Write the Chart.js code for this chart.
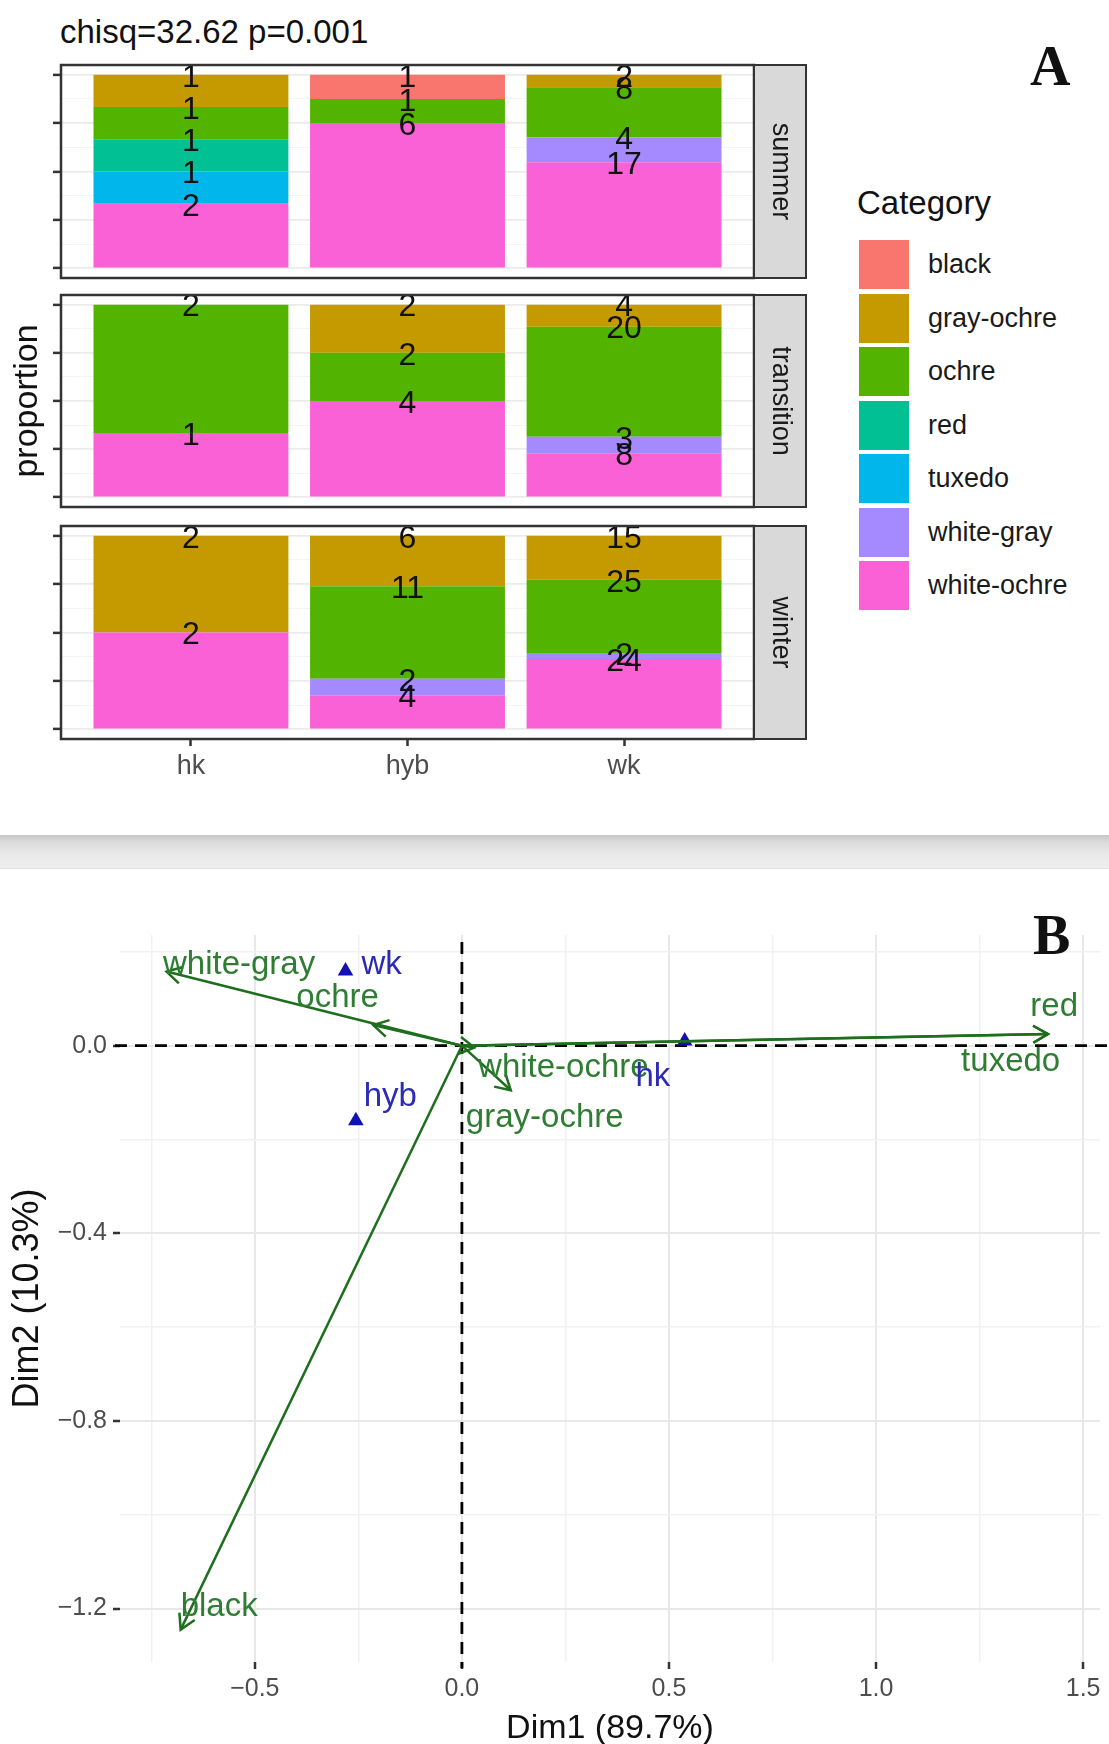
<!DOCTYPE html>
<html>
<head>
<meta charset="utf-8">
<script src="https://cdn.jsdelivr.net/npm/chart.js@4.4.0/dist/chart.umd.min.js"></script>
<style>
  body { margin:0; background:#fff; width:1109px; height:1744px; position:relative; overflow:hidden;
         font-family:"Liberation Sans", Arial, sans-serif; }
  canvas { position:absolute; left:0; }
  .abs { position:absolute; white-space:nowrap; line-height:1; }
  .key { position:absolute; width:50px; height:49px; }
  .letter { position:absolute; font-family:"Liberation Serif", "DejaVu Serif", serif; font-weight:bold;
            font-size:56px; line-height:1; color:#111; z-index:5; }
  #band { position:absolute; left:0; top:835px; width:1109px; height:33px;
          background:linear-gradient(#c6c6c6 0%, #dcdcdc 22%, #e9e9e9 60%, #efefef 100%);
          border-bottom:1px solid #e2e2e2; }
</style>
</head>
<body>
<div class="abs" style="left:60px;top:15px;font-size:33px;color:#111;">chisq=32.62 p=0.001</div>
<div id="legend"></div>
<div id="band"></div>

<canvas id="summer" width="810" height="219" style="top:62px"></canvas>
<canvas id="transition" width="810" height="218" style="top:292px"></canvas>
<canvas id="winter" width="810" height="260" style="top:523px"></canvas>
<canvas id="biplot" width="1109" height="844" style="top:900px"></canvas>

<div class="letter" style="left:1030px;top:38px;">A</div>
<div class="letter" style="left:1033px;top:907px;">B</div>

<script>
// ---- panel A: counts of each colour category per group (hk, hyb, wk) ----
const groups = ["hk", "hyb", "wk"];
const seasons = ["summer", "transition", "winter"];
const categories = ["black", "gray-ochre", "ochre", "red", "tuxedo", "white-gray", "white-ochre"];
const catColors = ["#F8766D", "#C49A00", "#53B400", "#00C094", "#00B6EB", "#A58AFF", "#FB61D7"];

// one row per category, columns hk / hyb / wk
const summerCounts = [
  [0, 1, 0],
  [1, 0, 2],
  [1, 1, 8],
  [1, 0, 0],
  [1, 0, 0],
  [0, 0, 4],
  [2, 6, 17]
];
const transitionCounts = [
  [0, 0, 0],
  [0, 2, 4],
  [2, 2, 20],
  [0, 0, 0],
  [0, 0, 0],
  [0, 0, 3],
  [1, 4, 8]
];
const winterCounts = [
  [0, 0, 0],
  [2, 6, 15],
  [0, 11, 25],
  [0, 0, 0],
  [0, 0, 0],
  [0, 2, 2],
  [2, 4, 24]
];
const propMajor = [0, 0.25, 0.5, 0.75, 1];
const propMinor = [0.125, 0.375, 0.625, 0.875];

// ---- panel B: correspondence analysis map ----
const rowNames = ["hk", "hyb", "wk"];
const rowDim1 = [0.538, -0.256, -0.281];
const rowDim2 = [0.010, -0.160, 0.159];
const rowLabelDim1 = [0.461, -0.173, -0.194];
const rowLabelDim2 = [-0.067, -0.110, 0.172];

const colNames = ["black", "gray-ochre", "ochre", "red", "tuxedo", "white-gray", "white-ochre"];
const colDim1 = [-0.679, 0.030, -0.214, 1.415, 1.415, -0.713, 0.118];
const colDim2 = [-1.245, -0.004, 0.044, 0.025, 0.025, 0.158, -0.095];
const colLabelDim1 = [-0.586, 0.200, -0.300, 1.430, 1.325, -0.538, 0.245];
const colLabelDim2 = [-1.196, -0.155, 0.101, 0.082, -0.035, 0.172, -0.048];

const dim1Major = [-0.5, 0, 0.5, 1, 1.5];
const dim1Minor = [-0.75, -0.25, 0.25, 0.75, 1.25];
const dim2Major = [-1.2, -0.8, -0.4, 0];
const dim2Minor = [-1.0, -0.6, -0.2, 0.2];

Chart.defaults.font.family = '"Liberation Sans", Arial, sans-serif';
Chart.defaults.animation = false;

// legend (html)
const legendEl = document.getElementById("legend");
legendEl.innerHTML = '<div class="abs" style="left:857px;top:186px;font-size:33px;color:#111;">Category</div>';
categories.forEach((c, i) => {
  const top = 240 + i * 53.5;
  legendEl.innerHTML += `<div class="key" style="left:859px;top:${top}px;background:${catColors[i]}"></div>` +
    `<div class="abs" style="left:928px;top:${top + 11}px;font-size:27px;color:#1a1a1a;">${c}</div>`;
});

function isMajor(v, step) {
  return Math.abs(v / step - Math.round(v / step)) < 1e-6;
}

const facetDecor = {
  id: "facetDecor",
  afterDatasetsDraw(chart) {
    const ctx = chart.ctx;
    const a = chart.chartArea;
    ctx.save();
    // count labels at the top of each segment
    ctx.font = '32px "Liberation Sans", Arial, sans-serif';
    ctx.fillStyle = "#111";
    ctx.textAlign = "center";
    ctx.textBaseline = "middle";
    chart.data.datasets.forEach((ds, di) => {
      const meta = chart.getDatasetMeta(di);
      meta.data.forEach((el, j) => {
        if (ds.counts[j] > 0) ctx.fillText(String(ds.counts[j]), el.x, el.y + 3);
      });
    });
    // panel border
    ctx.strokeStyle = "#333";
    ctx.lineWidth = 2.5;
    ctx.strokeRect(a.left, a.top, a.right - a.left, a.bottom - a.top);
    // strip on the right
    const sw = 52;
    ctx.fillStyle = "#D9D9D9";
    ctx.fillRect(a.right, a.top, sw, a.bottom - a.top);
    ctx.lineWidth = 2;
    ctx.strokeRect(a.right, a.top, sw, a.bottom - a.top);
    ctx.fillStyle = "#1a1a1a";
    ctx.font = '27px "Liberation Sans", Arial, sans-serif';
    ctx.translate(a.right + sw / 2, (a.top + a.bottom) / 2);
    ctx.rotate(Math.PI / 2);
    ctx.fillText(chart.options.plugins.facetDecor.label, 0, 0);
    ctx.restore();
  }
};

function facetChart(id, season, counts, withAxis, withTitle) {
  const totals = groups.map((g, j) => counts.reduce((s, row) => s + row[j], 0));
  const datasets = [];
  for (let i = categories.length - 1; i >= 0; i--) {
    datasets.push({
      label: categories[i],
      data: groups.map((g, j) => ({ x: j + 1, y: counts[i][j] / totals[j] })),
      counts: counts[i],
      backgroundColor: catColors[i],
      borderWidth: 0,
      barPercentage: 0.9,
      categoryPercentage: 1
    });
  }
  const yTicks = propMajor.concat(propMinor).sort((p, q) => p - q);
  return new Chart(document.getElementById(id), {
    type: "bar",
    data: { datasets },
    options: {
      responsive: false,
      layout: { padding: { left: 0, right: 56, top: 3, bottom: withAxis ? 0 : 3 } },
      plugins: { legend: { display: false }, tooltip: { enabled: false }, facetDecor: { label: season } },
      scales: {
        x: {
          type: "linear", stacked: true, min: 0.4, max: 3.6, offset: false,
          afterBuildTicks: s => { s.ticks = groups.map((g, j) => ({ value: j + 1 })); },
          afterFit: s => { s.height = withAxis ? 44 : 0; s.paddingLeft = 0; s.paddingRight = 0; },
          grid: { display: withAxis, offset: false, drawOnChartArea: false, tickLength: 7, tickColor: "#333", tickWidth: 2.5 },
          border: { display: false },
          ticks: {
            display: withAxis, autoSkip: false, maxRotation: 0, padding: 4,
            color: "#4D4D4D", font: { size: 27 },
            callback: v => groups[v - 1]
          }
        },
        y: {
          stacked: true, min: -0.05, max: 1.05,
          afterBuildTicks: s => { s.ticks = yTicks.map(v => ({ value: v })); },
          afterFit: s => { s.width = 61; s.paddingTop = 0; s.paddingBottom = 0; },
          ticks: { display: false },
          border: { display: false },
          title: withTitle ? { display: true, text: "proportion", color: "#111",
                               font: { size: 34, lineHeight: 1 }, padding: { top: 11, bottom: 0 } } : { display: false },
          grid: {
            color: c => isMajor(c.tick.value, 0.25) ? "#EBEBEB" : "#F4F4F4",
            lineWidth: c => isMajor(c.tick.value, 0.25) ? 1.8 : 1,
            tickColor: c => isMajor(c.tick.value, 0.25) ? "#333" : "rgba(0,0,0,0)",
            tickLength: 8, tickWidth: 2.5
          }
        }
      }
    },
    plugins: [facetDecor]
  });
}

facetChart("summer", seasons[0], summerCounts, false, false);
facetChart("transition", seasons[1], transitionCounts, false, true);
facetChart("winter", seasons[2], winterCounts, true, false);

// ---- panel B ----
const green = "#1E6E1E";
const greenText = "#2E7D32";
const blue = "#1212B0";
const blueText = "#2B2BB5";

function fmt(v) {
  return v.toFixed(1).replace("-", "\u2212");
}

const biplotDecor = {
  id: "biplotDecor",
  beforeDatasetsDraw(chart) {
    const ctx = chart.ctx, a = chart.chartArea;
    const xs = chart.scales.x, ys = chart.scales.y;
    ctx.save();
    ctx.strokeStyle = "#000";
    ctx.lineWidth = 2.8;
    ctx.setLineDash([12, 8]);
    const x0 = xs.getPixelForValue(0), y0 = ys.getPixelForValue(0);
    ctx.beginPath();
    ctx.moveTo(x0, a.top + 7); ctx.lineTo(x0, a.bottom + 6);
    ctx.moveTo(a.left - 5, y0); ctx.lineTo(chart.width, y0);
    ctx.stroke();
    ctx.restore();
  },
  afterDatasetsDraw(chart) {
    const ctx = chart.ctx;
    const xs = chart.scales.x, ys = chart.scales.y;
    ctx.save();
    // arrow heads
    ctx.strokeStyle = green;
    ctx.lineWidth = 2.5;
    chart.data.datasets.forEach((ds, di) => {
      if (!ds.isArrow) return;
      const pts = chart.getDatasetMeta(di).data;
      const x1 = pts[1].x, y1 = pts[1].y;
      const ang = Math.atan2(y1 - pts[0].y, x1 - pts[0].x);
      const len = 17, spread = Math.PI / 6;
      ctx.beginPath();
      ctx.moveTo(x1 - len * Math.cos(ang - spread), y1 - len * Math.sin(ang - spread));
      ctx.lineTo(x1, y1);
      ctx.lineTo(x1 - len * Math.cos(ang + spread), y1 - len * Math.sin(ang + spread));
      ctx.stroke();
    });
    // labels
    ctx.font = '33px "Liberation Sans", Arial, sans-serif';
    ctx.textAlign = "center";
    ctx.textBaseline = "middle";
    ctx.fillStyle = greenText;
    colNames.forEach((n, i) => {
      ctx.fillText(n, xs.getPixelForValue(colLabelDim1[i]), ys.getPixelForValue(colLabelDim2[i]));
    });
    ctx.fillStyle = blueText;
    rowNames.forEach((n, i) => {
      ctx.fillText(n, xs.getPixelForValue(rowLabelDim1[i]), ys.getPixelForValue(rowLabelDim2[i]));
    });
    ctx.restore();
  }
};

const bDatasets = colNames.map((n, i) => ({
  label: n,
  isArrow: true,
  showLine: true,
  data: [{ x: 0, y: 0 }, { x: colDim1[i], y: colDim2[i] }],
  borderColor: green,
  borderWidth: 2.5,
  pointRadius: 0
}));
bDatasets.push({
  label: "rows",
  data: rowNames.map((n, i) => ({ x: rowDim1[i], y: rowDim2[i] })),
  pointStyle: "triangle",
  pointRadius: 9,
  backgroundColor: blue,
  borderColor: blue,
  borderWidth: 0
});

const xTicksB = dim1Major.concat(dim1Minor).sort((p, q) => p - q);
const yTicksB = dim2Major.concat(dim2Minor).sort((p, q) => p - q);

new Chart(document.getElementById("biplot"), {
  type: "scatter",
  data: { datasets: bDatasets },
  options: {
    responsive: false,
    layout: { padding: { left: 0, right: 3, top: 35, bottom: 0 } },
    plugins: { legend: { display: false }, tooltip: { enabled: false } },
    scales: {
      x: {
        type: "linear", min: -0.8255, max: 1.5407,
        afterBuildTicks: s => { s.ticks = xTicksB.map(v => ({ value: v })); },
        afterFit: s => { s.height = 82; s.paddingLeft = 0; s.paddingRight = 0; },
        border: { display: false },
        grid: {
          color: c => isMajor(c.tick.value, 0.5) ? "#E8E8E8" : "#F1F1F1",
          lineWidth: c => isMajor(c.tick.value, 0.5) ? 2 : 1.5,
          tickColor: c => isMajor(c.tick.value, 0.5) ? "#333" : "rgba(0,0,0,0)",
          tickLength: 7, tickWidth: 2.5
        },
        ticks: {
          autoSkip: false, maxRotation: 0, padding: 5, color: "#4D4D4D", font: { size: 25 },
          callback: v => isMajor(v, 0.5) ? fmt(v) : ""
        },
        title: { display: true, text: "Dim1 (89.7%)", color: "#111",
                 font: { size: 34, lineHeight: 0.9 }, padding: { top: 0, bottom: 0 } }
      },
      y: {
        type: "linear", min: -1.314, max: 0.236,
        afterBuildTicks: s => { s.ticks = yTicksB.map(v => ({ value: v })); },
        afterFit: s => { s.width = 120; s.paddingTop = 0; s.paddingBottom = 0; },
        border: { display: false },
        grid: {
          color: c => isMajor(c.tick.value, 0.4) ? "#E8E8E8" : "#F1F1F1",
          lineWidth: c => isMajor(c.tick.value, 0.4) ? 2 : 1.5,
          tickColor: c => isMajor(c.tick.value, 0.4) ? "#333" : "rgba(0,0,0,0)",
          tickLength: 7, tickWidth: 2.5
        },
        ticks: {
          autoSkip: false, padding: 6, color: "#4D4D4D", font: { size: 25 },
          callback: v => isMajor(v, 0.4) ? fmt(v) : ""
        },
        title: { display: true, text: "Dim2 (10.3%)", color: "#111",
                 font: { size: 36, lineHeight: 1 }, padding: { top: 10, bottom: 0 } }
      }
    }
  },
  plugins: [biplotDecor]
});
</script>
</body>
</html>
